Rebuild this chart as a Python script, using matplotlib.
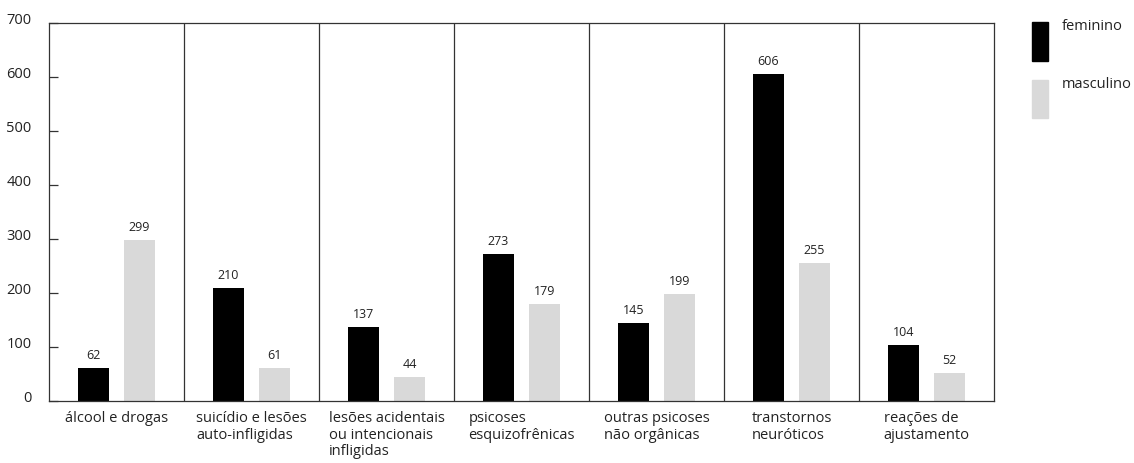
import matplotlib
matplotlib.use("Agg")
import matplotlib.pyplot as plt
import matplotlib.transforms as mtransforms
import numpy as np
from matplotlib.patches import Rectangle

categories = [
    "álcool e drogas",
    "suicídio e lesões\nauto-infligidas",
    "lesões acidentais\nou intencionais\ninfligidas",
    "psicoses\nesquizofrênicas",
    "outras psicoses\nnão orgânicas",
    "transtornos\nneuróticos",
    "reações de\najustamento",
]
feminino = [62, 210, 137, 273, 145, 606, 104]
masculino = [299, 61, 44, 179, 199, 255, 52]
yticks = [0, 100, 200, 300, 400, 500, 600, 700]

BLACK = "#000000"
GRAY = "#d9d9d9"
LINE = "#333333"
TEXT = "#222222"

plt.rcParams["font.family"] = ["Open Sans", "DejaVu Sans"]

fig = plt.figure(figsize=(11.34, 4.63), dpi=100)
ax = fig.add_axes([49 / 1134, 1 - 401 / 463, 945 / 1134, 378 / 463])

x = np.arange(len(categories))
offset = 0.17
width = 0.23
ax.bar(x - offset, feminino, width, color=BLACK)
ax.bar(x + offset, masculino, width, color=GRAY)

for xi, f, m in zip(x, feminino, masculino):
    ax.text(xi - offset, f + 16.5, str(f), ha="center", va="baseline", fontsize=9, color=TEXT)
    ax.text(xi + offset, m + 16.5, str(m), ha="center", va="baseline", fontsize=9, color=TEXT)

# separators between the groups
for b in np.arange(0.5, len(categories) - 1, 1):
    ax.axvline(b, color=LINE, lw=0.9)

ax.set_xlim(-0.5, len(categories) - 0.5)
ax.set_ylim(0, 700)
for s in ax.spines.values():
    s.set_color(LINE)
    s.set_linewidth(0.9)

ax.set_yticks(yticks)
ax.set_yticklabels([str(v) for v in yticks], fontsize=10.5, color=TEXT)
ax.tick_params(axis="y", direction="in", length=6.5, width=0.9, color=LINE, pad=12.5)
# y labels sit slightly above their ticks
shift = mtransforms.ScaledTranslation(0, 4 / 100, fig.dpi_scale_trans)
for lab in ax.get_yticklabels():
    lab.set_transform(lab.get_transform() + shift)

ax.set_xticks(x)
ax.set_xticklabels(categories, fontsize=10.5, color=TEXT, linespacing=1.12,
                   multialignment="left", va="top")
ax.tick_params(axis="x", length=0, pad=7.5)

# legend boxes on the right
fig.patches.append(Rectangle((1032 / 1134, 1 - 61 / 463), 16 / 1134, 39 / 463,
                             transform=fig.transFigure, color=BLACK))
fig.patches.append(Rectangle((1032 / 1134, 1 - 118 / 463), 16 / 1134, 38 / 463,
                             transform=fig.transFigure, color=GRAY))
fig.text(1062 / 1134, 1 - 19 / 463, "feminino", fontsize=10.5, va="top", color=TEXT)
fig.text(1062 / 1134, 1 - 77 / 463, "masculino", fontsize=10.5, va="top", color=TEXT)

fig.savefig("out.png", dpi=100)
